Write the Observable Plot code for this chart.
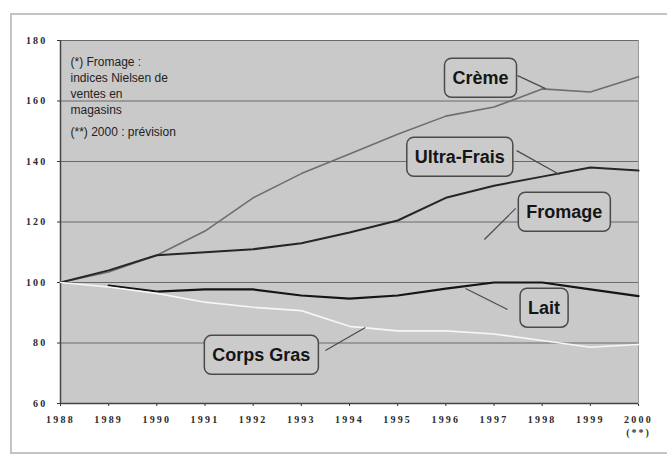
<!DOCTYPE html>
<html>
<head>
<meta charset="utf-8">
<script src="https://cdn.jsdelivr.net/npm/d3@7"></script>
<script src="https://cdn.jsdelivr.net/npm/@observablehq/plot@0.6"></script>
<style>
  html, body { margin: 0; padding: 0; background: #fff; }
  #wrap { position: relative; width: 667px; height: 458px; overflow: hidden; }
  #border { position: absolute; left: 10px; top: 13px; width: 670px; height: 441px;
            border: 2px solid #c4c4c4; box-sizing: border-box; }
  #chart { position: absolute; left: 0; top: 0; }
  #chart svg [aria-label*="axis"] text { letter-spacing: 2.2px; font-family: "Liberation Serif", "Times New Roman", serif; font-weight: bold; fill: #2a2a2a; }
</style>
</head>
<body>
<div id="wrap">
  <div id="border"></div>
  <div id="chart"></div>
</div>
<script>
// ---- data ----
const years = [1988, 1989, 1990, 1991, 1992, 1993, 1994, 1995, 1996, 1997, 1998, 1999, 2000];
const creme      = [100, 103.5, 109, 117, 128, 136, 142.5, 149, 155, 158, 164, 163, 168];
const ultraFrais = [100, 104, 109, 110, 111, 113, 116.5, 120.5, 128, 132, 135, 138, 137];
const lait       = [null, 99, 97, 97.7, 97.7, 95.7, 94.7, 95.7, 98, 100, 100, 97.7, 95.5];
const corpsGras  = [100, 98.5, 96.4, 93.5, 91.8, 90.7, 85.5, 84, 84, 83, 80.8, 78.6, 79.5];
const yTicks = [60, 80, 100, 120, 140, 160, 180];

// callout labels (centre, in data units) and their pointer lines
const calloutNames  = ["Crème", "Ultra-Frais", "Fromage", "Lait", "Corps Gras"];
const calloutYear   = [1996.72, 1996.29, 1998.46, 1998.04, 1992.17];
const calloutValue  = [167.6, 141.5, 123.3, 91.6, 76.0];
const pointerFromYear  = [1997.49, 1997.47, 1997.45, 1997.28, 1993.50];
const pointerFromValue = [168.4, 143.6, 124.5, 91.1, 77.5];
const pointerToYear    = [1998.07, 1998.36, 1996.80, 1996.41, 1994.33];
const pointerToValue   = [164.1, 135.7, 114.2, 98.0, 85.1];

const noteLines = "(*) Fromage :\nindices Nielsen de\nventes en\nmagasins";
const noteForecast = "(**) 2000 : prévision";
const forecastMark = "(**)";

// ---- build tables ----
const SANS = "Liberation Sans, Arial, Helvetica, sans-serif";
const SERIF = "Liberation Serif, Times New Roman, serif";
const seriesDefs = [
  {name: "Crème", values: creme, color: "#6e6e6e", width: 1.6},
  {name: "Ultra-Frais", values: ultraFrais, color: "#262626", width: 2},
  {name: "Lait", values: lait, color: "#151515", width: 2.2},
  {name: "Corps Gras", values: corpsGras, color: "#f6f6f6", width: 1.6}
];
const callouts = calloutNames.map((n, i) => ({
  name: n, year: calloutYear[i], value: calloutValue[i],
  x1: pointerFromYear[i], y1: pointerFromValue[i],
  x2: pointerToYear[i], y2: pointerToValue[i]
}));

const lineMarks = seriesDefs.map(s =>
  Plot.line(years.map((y, i) => ({year: y, value: s.values[i]})).filter(d => d.value != null), {
    x: "year", y: "value", stroke: s.color, strokeWidth: s.width, curve: "linear"
  })
);

const plot = Plot.plot({
  width: 667,
  height: 458,
  marginLeft: 60,
  marginRight: 29,
  marginTop: 40,
  marginBottom: 55,
  style: {background: "transparent", fontFamily: SERIF, fontSize: "10px", color: "#333"},
  x: {domain: [1988, 2000], ticks: years, tickFormat: d => String(d), label: null, tickSize: 3, tickPadding: 9},
  y: {domain: [60, 180], ticks: yTicks, label: null, tickSize: 3, tickPadding: 10},
  marks: [
    Plot.frame({fill: "#c9c9c9", stroke: "#9a9a9a"}),
    Plot.ruleY(yTicks, {stroke: "#6a6a6a", strokeWidth: 1}),
    Plot.ruleX([1988], {stroke: "#444", strokeWidth: 1.5}),
    Plot.ruleY([60], {stroke: "#444", strokeWidth: 1.5}),
    ...lineMarks,
    Plot.link(callouts, {x1: "x1", y1: "y1", x2: "x2", y2: "y2", stroke: "#4a4a4a", strokeWidth: 1.2}),
    Plot.text(callouts, {x: "year", y: "value", text: "name",
      fontFamily: SANS, fontWeight: "bold", fontSize: 18, fill: "#151515"}),
    Plot.text([noteLines], {frameAnchor: "top-left", dx: 10, dy: 14, lineAnchor: "top", textAnchor: "start",
      lineHeight: 1.33, fontFamily: SANS, fontSize: 12, fill: "#222"}),
    Plot.text([noteForecast], {frameAnchor: "top-left", dx: 10, dy: 87, lineAnchor: "top", textAnchor: "start",
      fontFamily: SANS, fontSize: 12, fill: "#222"}),
    Plot.text([{year: 2000}], {x: "year", text: () => forecastMark, frameAnchor: "bottom", dy: 32,
      fontFamily: SERIF, fontSize: 10, fontWeight: "bold", fill: "#333"})
  ]
});

document.getElementById("chart").appendChild(plot);

// letter spacing on the forecast marker, like the axis labels
Array.from(plot.querySelectorAll("text"))
  .filter(t => t.textContent.trim() === forecastMark)
  .forEach(t => t.style.letterSpacing = "2px");

// rounded boxes behind the callout texts
const ns = "http://www.w3.org/2000/svg";
const nameSet = new Set(calloutNames);
Array.from(plot.querySelectorAll("text"))
  .filter(t => nameSet.has(t.textContent.trim()))
  .forEach(t => {
    const bb = t.getBBox();
    const r = document.createElementNS(ns, "rect");
    const padX = 8, h = 39;
    const cy = bb.y + bb.height / 2;
    r.setAttribute("x", bb.x - padX);
    r.setAttribute("y", cy - h / 2);
    r.setAttribute("width", bb.width + 2 * padX);
    r.setAttribute("height", h);
    r.setAttribute("rx", 7);
    r.setAttribute("fill", "#cbcbcb");
    r.setAttribute("stroke", "#4a4a4a");
    r.setAttribute("stroke-width", 1.5);
    if (t.getAttribute("transform")) r.setAttribute("transform", t.getAttribute("transform"));
    t.parentNode.insertBefore(r, t);
  });
</script>
</body>
</html>
